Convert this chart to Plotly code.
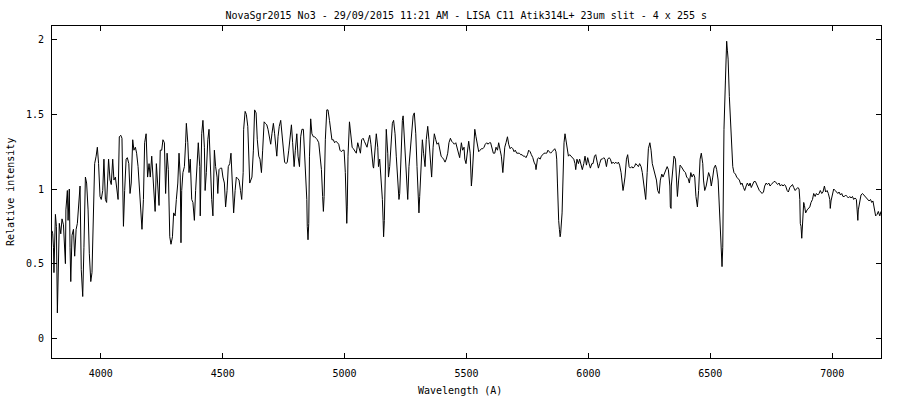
import plotly.graph_objects as go

# Wavelength (Angstrom) and relative intensity
wl_blue = [3800, 3803, 3806, 3808, 3814, 3818, 3822, 3826, 3830, 3836, 3841, 3847, 3852, 3855, 3857,
           3863, 3866, 3871, 3874, 3877, 3882, 3888, 3893, 3899, 3904, 3909, 3915, 3920, 3926, 3931,
           3937, 3942, 3948, 3953, 3959, 3964, 3970, 3975, 3981, 3986, 3991, 3997, 4002, 4008, 4013,
           4019, 4024, 4030, 4032, 4038, 4043, 4049, 4054, 4060, 4065, 4071, 4076, 4082, 4087, 4093,
           4098, 4104, 4109, 4115, 4120, 4125, 4131, 4136, 4142, 4147, 4153, 4158, 4164, 4169, 4175,
           4180, 4186]
in_blue = [0.72, 0.70, 0.61, 0.44, 0.83, 0.75, 0.17, 0.55, 0.77, 0.70, 0.80, 0.76, 0.61, 0.50, 0.86,
           0.99, 0.79, 1.00, 0.61, 0.38, 0.69, 0.73, 0.55, 0.73, 0.77, 0.86, 1.02, 0.46, 0.28, 0.61,
           1.08, 1.04, 0.86, 0.57, 0.38, 0.44, 0.91, 1.17, 1.22, 1.28, 1.17, 0.95, 0.93, 0.99, 1.20,
           0.93, 0.91, 1.11, 1.20, 1.06, 1.03, 1.20, 1.06, 1.08, 0.99, 0.93, 1.35, 1.36, 1.34, 0.75,
           0.99, 1.20, 1.21, 1.17, 0.97, 1.04, 1.33, 1.26, 1.28, 1.24, 1.15, 0.99, 0.87, 0.73, 0.93,
           1.31, 1.37]

wl_hg = [4192, 4198, 4203, 4209, 4214, 4220, 4223, 4228, 4234, 4239, 4244, 4250, 4255, 4261, 4266,
         4272, 4277, 4280, 4283, 4288, 4294, 4299, 4305, 4310, 4316, 4321, 4326, 4329, 4332, 4337,
         4343, 4348, 4351, 4357, 4362, 4367, 4373, 4378, 4384, 4389, 4395, 4400, 4406, 4408, 4414,
         4419, 4425, 4428, 4433, 4439, 4444, 4450, 4455, 4460, 4466, 4471, 4477, 4480, 4485, 4491,
         4496, 4501, 4507, 4512, 4518, 4523, 4529, 4534, 4540, 4545, 4551, 4556, 4562, 4567, 4573,
         4578, 4584, 4586, 4592, 4597, 4603, 4608, 4611]
in_hg = [1.08, 1.17, 1.08, 1.22, 1.08, 0.91, 0.85, 1.17, 0.97, 0.89, 1.26, 1.26, 1.33, 1.31, 0.97,
         1.24, 1.13, 0.91, 0.68, 0.63, 0.68, 0.84, 0.82, 0.93, 1.04, 1.24, 1.08, 0.64, 0.99, 1.11,
         1.15, 1.31, 1.44, 1.31, 1.11, 1.20, 0.93, 0.91, 0.79, 0.99, 1.15, 1.31, 1.15, 0.82, 1.37,
         1.46, 1.28, 0.99, 1.11, 1.33, 1.40, 1.08, 0.93, 0.82, 1.26, 1.15, 1.08, 0.97, 1.13, 1.14,
         1.14, 1.08, 1.04, 0.88, 0.99, 1.15, 1.17, 1.24, 0.99, 0.84, 0.99, 1.08, 1.07, 1.06, 0.99,
         0.93, 1.11, 1.40, 1.52, 1.50, 1.42, 1.20, 1.04]

wl_hb = [4620, 4626, 4631, 4637, 4642, 4648, 4653, 4659, 4664, 4670, 4675, 4681, 4686, 4691, 4697,
         4702, 4708, 4713, 4719, 4722, 4727, 4732, 4738, 4743, 4749, 4754, 4760, 4765, 4771, 4776,
         4782, 4787, 4793, 4798, 4804, 4809, 4815, 4820, 4825, 4831, 4836, 4842, 4845, 4847, 4850,
         4853, 4856, 4861, 4866, 4872, 4877, 4883, 4888, 4894, 4899, 4905, 4910, 4913, 4916, 4921,
         4927, 4932, 4938, 4943, 4948, 4954, 4959, 4965, 4970, 4976, 4981, 4987, 4992, 4998, 5003,
         5006, 5009, 5011, 5014, 5020, 5025, 5031, 5036]
in_hb = [1.08, 1.26, 1.53, 1.51, 1.33, 1.22, 1.20, 1.11, 1.26, 1.45, 1.44, 1.43, 1.40, 1.35, 1.30,
         1.37, 1.44, 1.37, 1.26, 1.22, 1.35, 1.42, 1.46, 1.37, 1.24, 1.18, 1.17, 1.18, 1.26, 1.35,
         1.43, 1.31, 1.15, 1.26, 1.37, 1.22, 1.15, 1.35, 1.40, 1.40, 1.26, 1.08, 0.93, 0.75, 0.66,
         0.77, 1.22, 1.47, 1.37, 1.35, 1.35, 1.34, 1.33, 1.31, 1.22, 1.13, 0.95, 0.85, 0.95, 1.33,
         1.53, 1.53, 1.46, 1.40, 1.33, 1.33, 1.31, 1.32, 1.31, 1.30, 1.26, 1.25, 1.26, 1.26, 1.11,
         0.93, 0.77, 0.88, 1.22, 1.45, 1.37, 1.28, 1.27]

wl_mg = [5048, 5054, 5059, 5065, 5070, 5076, 5081, 5087, 5092, 5098, 5103, 5108, 5114, 5117, 5119,
         5125, 5130, 5136, 5139, 5144, 5149, 5155, 5158, 5160, 5163, 5166, 5171, 5177, 5180, 5185,
         5191, 5196, 5201, 5207, 5212, 5218, 5223, 5226, 5232, 5237, 5240, 5245, 5251, 5253, 5259,
         5264, 5270, 5275, 5281, 5286, 5292, 5297, 5303, 5305, 5308, 5314, 5319, 5324, 5330, 5335,
         5341, 5346, 5352, 5357, 5363, 5368, 5374, 5379, 5385, 5390, 5396, 5401, 5406, 5412, 5417,
         5423, 5428, 5434, 5439, 5445, 5450, 5456, 5461, 5467, 5472]
in_mg = [1.24, 1.31, 1.28, 1.24, 1.33, 1.34, 1.32, 1.30, 1.28, 1.33, 1.36, 1.30, 1.15, 1.15, 1.14,
         1.31, 1.37, 1.28, 1.15, 1.20, 1.08, 0.93, 0.79, 0.68, 0.79, 1.08, 1.40, 1.24, 1.08, 1.15,
         1.35, 1.44, 1.46, 1.37, 1.22, 1.04, 0.93, 0.97, 1.26, 1.46, 1.49, 1.35, 1.15, 1.06, 0.93,
         1.15, 1.28, 1.40, 1.49, 1.51, 1.37, 1.15, 0.97, 0.84, 0.95, 1.20, 1.33, 1.24, 1.15, 1.33,
         1.42, 1.33, 1.20, 1.08, 1.28, 1.37, 1.33, 1.30, 1.31, 1.26, 1.22, 1.21, 1.20, 1.18, 1.20,
         1.24, 1.31, 1.34, 1.32, 1.31, 1.30, 1.31, 1.28, 1.24, 1.21]

wl_na = [5479, 5484, 5490, 5493, 5498, 5504, 5509, 5515, 5517, 5520, 5523, 5528, 5534, 5539, 5545,
         5550, 5556, 5561, 5567, 5572, 5577, 5583, 5588, 5594, 5599, 5605, 5610, 5616, 5621, 5627,
         5632, 5638, 5643, 5649, 5651, 5657, 5662, 5668, 5673, 5679, 5684, 5690, 5695, 5700, 5706,
         5711, 5717, 5722, 5728, 5733, 5739, 5744, 5750, 5755, 5761, 5766, 5772, 5777, 5783, 5785,
         5791, 5796, 5802, 5807, 5813, 5818, 5824, 5829, 5834, 5840, 5845, 5851, 5856, 5862, 5867,
         5870, 5873, 5875, 5878, 5881, 5884, 5886, 5889, 5892, 5895, 5897, 5900]
in_na = [1.31, 1.26, 1.28, 1.20, 1.17, 1.26, 1.32, 1.24, 1.08, 1.02, 1.08, 1.24, 1.40, 1.35, 1.28,
         1.25, 1.26, 1.27, 1.27, 1.28, 1.30, 1.31, 1.30, 1.31, 1.31, 1.28, 1.24, 1.24, 1.28, 1.26,
         1.31, 1.26, 1.22, 1.11, 1.15, 1.28, 1.31, 1.35, 1.30, 1.27, 1.28, 1.27, 1.25, 1.26, 1.24,
         1.24, 1.24, 1.23, 1.23, 1.22, 1.22, 1.21, 1.23, 1.26, 1.25, 1.23, 1.21, 1.18, 1.16, 1.13,
         1.20, 1.21, 1.20, 1.22, 1.23, 1.24, 1.24, 1.24, 1.26, 1.25, 1.24, 1.25, 1.26, 1.27, 1.25,
         1.20, 1.04, 0.86, 0.79, 0.73, 0.68, 0.70, 0.77, 0.84, 1.02, 1.20, 1.31]

wl_mid = [5904, 5910, 5915, 5918, 5923, 5929, 5934, 5940, 5945, 5948, 5953, 5959, 5964, 5970, 5975,
          5981, 5986, 5992, 5997, 6003, 6008, 6014, 6019, 6025, 6030, 6036, 6041, 6046, 6052, 6057,
          6063, 6068, 6074, 6079, 6085, 6090, 6096, 6101, 6107, 6112, 6118, 6123, 6128, 6134, 6139,
          6142, 6145, 6150, 6156, 6161, 6167, 6172, 6178, 6183, 6189, 6194, 6200, 6205, 6210, 6216,
          6221, 6227, 6232, 6235, 6241, 6246, 6252, 6257, 6262, 6268, 6273, 6279, 6284, 6290, 6295,
          6301, 6306, 6312, 6317, 6323, 6328, 6334, 6336, 6339]
in_mid = [1.37, 1.31, 1.24, 1.22, 1.23, 1.22, 1.21, 1.20, 1.17, 1.13, 1.20, 1.17, 1.20, 1.15, 1.13,
          1.17, 1.22, 1.16, 1.21, 1.17, 1.14, 1.17, 1.17, 1.22, 1.23, 1.18, 1.14, 1.17, 1.20, 1.20,
          1.21, 1.20, 1.15, 1.20, 1.21, 1.20, 1.17, 1.18, 1.17, 1.18, 1.17, 1.18, 1.16, 1.11, 1.04,
          0.99, 1.02, 1.08, 1.20, 1.23, 1.15, 1.14, 1.15, 1.14, 1.15, 1.17, 1.16, 1.15, 1.17, 1.15,
          1.11, 1.02, 0.93, 0.93, 1.11, 1.27, 1.31, 1.26, 1.17, 1.13, 1.11, 1.06, 0.99, 0.97, 1.06,
          1.10, 1.08, 1.11, 1.13, 1.15, 1.13, 1.02, 0.88, 0.87]

wl_ha = [6340, 6346, 6351, 6357, 6362, 6365, 6370, 6376, 6381, 6387, 6392, 6398, 6403, 6409, 6414,
         6420, 6425, 6431, 6436, 6441, 6447, 6452, 6458, 6463, 6469, 6472, 6477, 6483, 6488, 6493,
         6499, 6504, 6510, 6515, 6521, 6526, 6532, 6537, 6540, 6543, 6545, 6548, 6551, 6554, 6556,
         6562, 6565, 6567, 6570, 6573, 6578, 6584, 6589, 6592, 6597, 6603, 6608, 6614, 6619, 6625,
         6630, 6636, 6641, 6647, 6652, 6658, 6663, 6668, 6674, 6679, 6685, 6690, 6696, 6701, 6707,
         6712, 6718, 6723, 6729, 6734, 6740, 6745, 6750, 6756, 6761]
in_ha = [1.02, 1.17, 1.22, 1.20, 0.97, 0.95, 1.06, 1.16, 1.15, 1.13, 1.12, 1.11, 1.08, 1.07, 1.04,
         1.11, 1.08, 1.10, 1.08, 0.95, 0.88, 0.99, 1.20, 1.24, 1.17, 1.06, 0.99, 1.02, 1.08, 1.11,
         1.08, 1.02, 1.08, 1.14, 1.16, 1.13, 1.06, 0.88, 0.77, 0.64, 0.55, 0.48, 0.61, 0.95, 1.40,
         1.73, 1.89, 1.99, 1.93, 1.87, 1.62, 1.40, 1.22, 1.15, 1.11, 1.10, 1.08, 1.07, 1.06, 1.03,
         1.04, 1.01, 0.99, 1.02, 1.04, 1.02, 1.04, 1.01, 1.03, 1.05, 1.05, 1.03, 1.01, 0.99, 0.98,
         0.97, 0.98, 1.02, 1.04, 1.03, 1.04, 1.02, 1.03, 1.04, 1.05]

wl_red = [6766, 6771, 6776, 6782, 6787, 6793, 6798, 6804, 6809, 6815, 6820, 6826, 6831, 6837, 6842,
          6848, 6853, 6859, 6864, 6867, 6869, 6872, 6875, 6878, 6880, 6883, 6886, 6889, 6891, 6897,
          6902, 6908, 6913, 6919, 6924, 6930, 6935, 6941, 6946, 6951, 6957, 6962, 6968, 6973, 6979,
          6984, 6990, 6992, 6995, 7001, 7006, 7012, 7017, 7023, 7028, 7034, 7039, 7044, 7050, 7055,
          7061, 7066, 7072, 7077, 7083, 7088, 7094, 7099, 7102, 7105, 7107, 7113, 7118, 7124, 7129,
          7135, 7140, 7146, 7151, 7157, 7162, 7167, 7173, 7178, 7184, 7189, 7195, 7200]
in_red = [1.05, 1.04, 1.03, 1.04, 1.02, 1.03, 1.02, 1.03, 1.02, 0.99, 0.98, 1.01, 1.02, 1.03, 1.01,
          0.99, 1.00, 1.01, 1.00, 0.93, 0.77, 0.75, 0.67, 0.75, 0.84, 0.91, 0.89, 0.86, 0.84, 0.86,
          0.87, 0.88, 0.91, 0.93, 0.97, 0.95, 0.97, 0.96, 0.97, 0.99, 0.97, 0.98, 1.02, 0.98, 0.99,
          0.97, 0.93, 0.87, 0.92, 0.97, 1.00, 0.99, 0.98, 0.97, 0.98, 0.96, 0.97, 0.95, 0.95, 0.96,
          0.95, 0.94, 0.95, 0.94, 0.95, 0.93, 0.94, 0.93, 0.86, 0.79, 0.86, 0.93, 0.96, 0.97, 0.96,
          0.95, 0.94, 0.93, 0.92, 0.93, 0.91, 0.92, 0.85, 0.82, 0.83, 0.85, 0.82, 0.85]

wavelength = wl_blue + wl_hg + wl_hb + wl_mg + wl_na + wl_mid + wl_ha + wl_red
intensity = in_blue + in_hg + in_hb + in_mg + in_na + in_mid + in_ha + in_red

x_ticks = [4000, 4500, 5000, 5500, 6000, 6500, 7000]
y_ticks = [0, 0.5, 1, 1.5, 2]
y_ticktext = ["0", "0.5", "1", "1.5", "2"]

title = "NovaSgr2015 No3 - 29/09/2015 11:21 AM - LISA C11 Atik314L+ 23um slit - 4 x 255 s"
FONT = "DejaVu Sans Mono"

fig = go.Figure()
fig.add_trace(go.Scatter(x=wavelength, y=intensity, mode="lines",
                         line=dict(color="black", width=1), hoverinfo="skip"))

axis_common = dict(showline=True, linecolor="black", linewidth=1, mirror="ticks",
                   ticks="inside", ticklen=5, tickcolor="black", tickwidth=1,
                   showgrid=False, zeroline=False,
                   tickfont=dict(family=FONT, size=10, color="black"))

fig.update_layout(
    width=900, height=400,
    margin=dict(l=52, r=19, t=26, b=42),
    paper_bgcolor="white", plot_bgcolor="white",
    showlegend=False,
    title=dict(text=title, x=0.518, xanchor="center", y=1 - 15 / 400, yanchor="middle",
               yref="container", font=dict(family=FONT, size=10, color="black")),
    xaxis=dict(range=[3800, 7200], tickvals=x_ticks, ticklabelstandoff=6, **axis_common),
    yaxis=dict(range=[-0.132, 2.092], tickvals=y_ticks, ticktext=y_ticktext,
               ticklabelstandoff=5, **axis_common),
    annotations=[
        dict(text="Wavelength (A)", xref="paper", yref="paper", x=0.492, y=-0.0964,
             xanchor="center", yanchor="middle", showarrow=False,
             font=dict(family=FONT, size=10, color="black")),
        dict(text="Relative intensity", xref="paper", yref="paper", x=-0.0507, y=0.5,
             xanchor="center", yanchor="middle", textangle=-90, showarrow=False,
             font=dict(family=FONT, size=10, color="black")),
    ],
)

fig.write_html("out.html", config={"displayModeBar": False},
               post_script="document.body.style.margin='0px';")
